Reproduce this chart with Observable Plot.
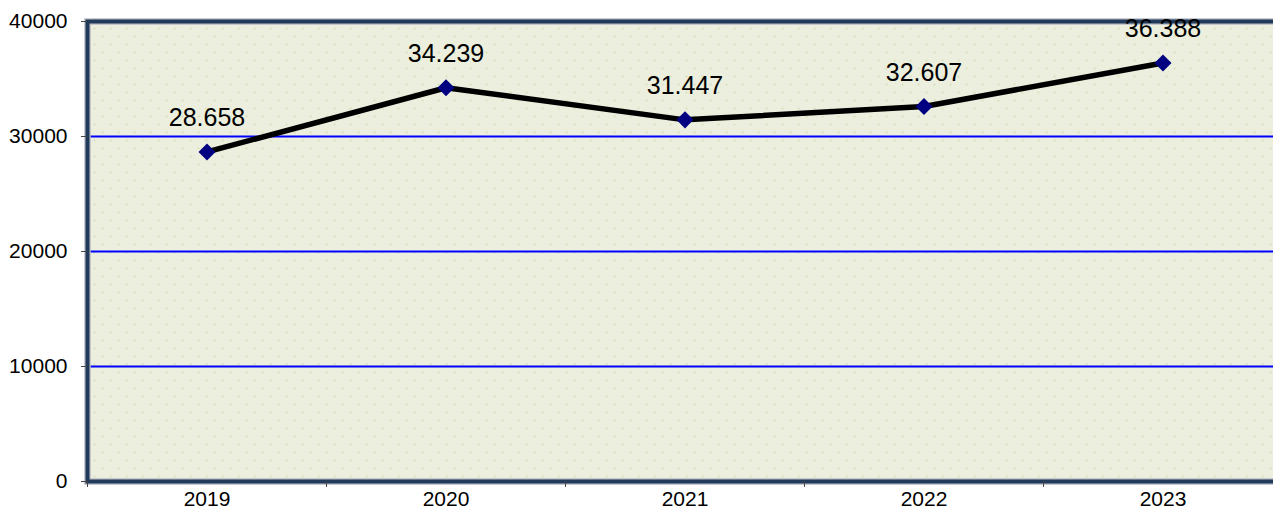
<!DOCTYPE html>
<html><head><meta charset="utf-8">
<script src="https://cdn.jsdelivr.net/npm/d3@7"></script>
<script src="https://cdn.jsdelivr.net/npm/@observablehq/plot@0.6"></script>
<style>
html,body{margin:0;padding:0;background:#fff;overflow:hidden}
#chart{width:1273px;height:512px;overflow:hidden}
#chart svg{max-width:none;display:block}
</style></head><body><div id="chart"></div>
<script>
const years = ["2019","2020","2021","2022","2023"];
const values = [28658, 34239, 31447, 32607, 36388];
const yTicks = [0, 10000, 20000, 30000, 40000];
const gridValues = [10000, 20000, 30000];

const fmt = d3.formatLocale({decimal: ",", thousands: ".", grouping: [3], currency: ["", ""]}).format(",d");
const data = years.map((year, i) => ({year, value: values[i], label: fmt(values[i])}));

const plot = Plot.plot({
  width: 1300, height: 512,
  marginLeft: 87, marginRight: 18, marginTop: 21, marginBottom: 31,
  style: {fontFamily: "'Liberation Sans', Arial, sans-serif", background: "#fff", color: "#000", overflow: "visible"},
  x: {type: "band", domain: years, padding: 0, label: null},
  y: {domain: [0, 40000], label: null},
  marks: [
    Plot.frame({fill: "#ecefdd"}),
    Plot.frame({fill: "url(#dots)"}),
    Plot.ruleY(gridValues, {stroke: "#0000ff", strokeWidth: 2}),
    Plot.frame({stroke: "#b8bcc4", strokeWidth: 6.5}),
    Plot.frame({stroke: "#213a5a", strokeWidth: 4}),
    Plot.axisY(yTicks, {tickSize: 6, tickPadding: 14, fontSize: 21, label: null, tickFormat: d => String(d), stroke: "#444"}),
    Plot.axisX({tickSize: 0, tickPadding: 10, fontSize: 21, label: null}),
    Plot.axisX({tickSize: 6, dx: -119.5, tickFormat: () => "", stroke: "#444", label: null}),
    Plot.line(data, {x: "year", y: "value", stroke: "#000", strokeWidth: 5.5, strokeLinejoin: "round"}),
    Plot.dot(data, {x: "year", y: "value", symbol: "square", rotate: 45, r: 6.8, fill: "#000080", stroke: "none"}),
    Plot.text(data, {x: "year", y: "value", text: "label", dy: -26, lineAnchor: "bottom", fontSize: 25, fill: "#000"})
  ]
});

const svg = d3.select(plot);
const defs = svg.insert("defs", ":first-child");
const pat = defs.append("pattern").attr("id", "dots").attr("patternUnits", "userSpaceOnUse")
  .attr("width", 16).attr("height", 16).attr("x", 90).attr("y", 24);
pat.append("rect").attr("x", 3).attr("y", 3).attr("width", 2).attr("height", 2).attr("fill", "#dae0bf");
pat.append("rect").attr("x", 11).attr("y", 11).attr("width", 2).attr("height", 2).attr("fill", "#dae0bf");

document.getElementById("chart").append(plot);
</script></body></html>
